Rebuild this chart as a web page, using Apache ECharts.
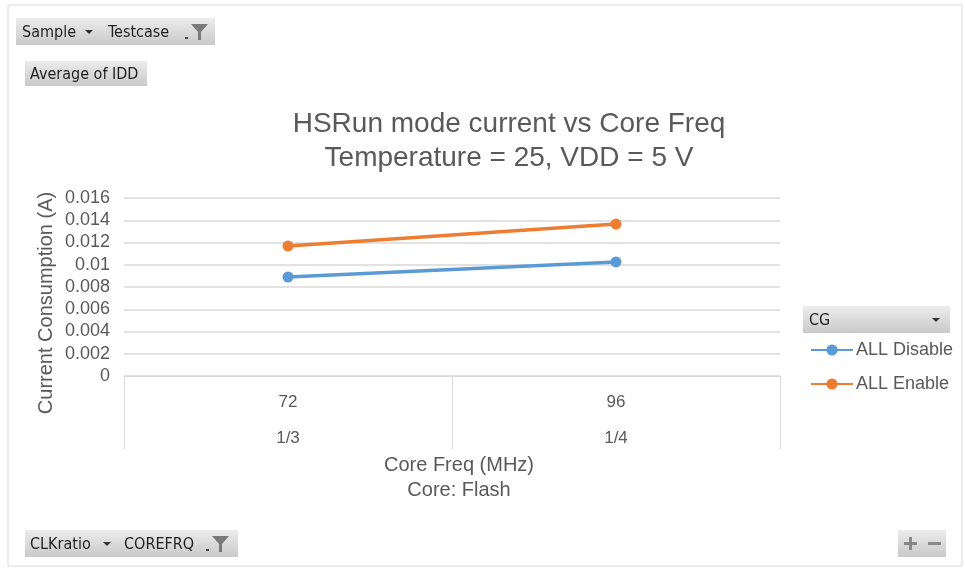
<!DOCTYPE html>
<html>
<head>
<meta charset="utf-8">
<script src="https://cdn.jsdelivr.net/npm/echarts@6/dist/echarts.min.js"></script>
<style>
html,body{margin:0;padding:0;background:#fff;}
#chart{width:965px;height:569px;}
</style>
</head>
<body>
<div id="chart"></div>
<script>
// ---- data ----
var coreFreq = ['72', '96'];
var clkRatio = ['1/3', '1/4'];
var seriesNames = ['ALL Disable', 'ALL Enable'];
var allDisable = [0.0089, 0.01025];
var allEnable = [0.01168, 0.01366];
var yTicks = { min: 0, max: 0.016, interval: 0.002 };

var categories = coreFreq.map(function (f, i) { return f + '\n' + clkRatio[i]; });

var chart = echarts.init(document.getElementById('chart'), null, { renderer: 'canvas' });
var txt = '#595959';
var grid = '#d9d9d9';
var btnFont = '"Liberation Sans Narrow","DejaVu Sans Condensed",sans-serif';
var chartFont = '"Liberation Sans",Arial,sans-serif';

function btnRect(x, y, w, h) {
  return {
    type: 'rect', shape: { x: x, y: y, width: w, height: h },
    style: {
      fill: new echarts.graphic.LinearGradient(0, 0, 0, 1, [
        { offset: 0, color: '#ececec' }, { offset: 1, color: '#c9c9c9' }
      ]), stroke: null
    }, z: 10
  };
}
function btnText(x, y, t) {
  return { type: 'text', x: x, y: y, style: { text: t, font: '16px ' + btnFont, fill: '#1f1f1f', verticalAlign: 'middle' }, z: 11 };
}
function arrow(x, y) {
  return { type: 'polygon', shape: { points: [[x - 4, y - 2], [x + 4, y - 2], [x, y + 2]] }, style: { fill: '#333' }, z: 11 };
}
function funnel(x, y) {
  return [
    { type: 'polygon', shape: { points: [[x, y - 8], [x + 17, y - 8], [x + 10, y], [x + 10, y + 8], [x + 7, y + 8], [x + 7, y]] }, style: { fill: '#7a7a7a' }, z: 11 },
    { type: 'rect', shape: { x: x - 6, y: y + 5, width: 3, height: 2 }, style: { fill: '#444' }, z: 11 }
  ];
}

var graphics = [
  { type: 'rect', shape: { x: 8, y: 5, width: 954, height: 561 }, style: { fill: null, stroke: '#d9d9d9', lineWidth: 1 }, z: 1 },
  btnRect(16, 18, 88, 27), btnRect(104, 18, 111, 27),
  btnText(22, 33, 'Sample'), arrow(89, 32), btnText(108, 33, 'Testcase')
].concat(funnel(191, 32)).concat([
  btnRect(25, 61, 122, 25), btnText(30, 75, 'Average of IDD'),
  btnRect(25, 530, 93, 27), btnRect(118, 530, 120, 27),
  btnText(30, 545, 'CLKratio'), arrow(107, 544), btnText(124, 545, 'COREFRQ')
]).concat(funnel(212, 544)).concat([
  btnRect(898, 530, 24, 27), btnRect(922, 530, 24, 27),
  { type: 'rect', shape: { x: 904, y: 542, width: 13, height: 3 }, style: { fill: '#888' }, z: 11 },
  { type: 'rect', shape: { x: 909, y: 537, width: 3, height: 13 }, style: { fill: '#888' }, z: 11 },
  { type: 'rect', shape: { x: 928, y: 542, width: 13, height: 3 }, style: { fill: '#888' }, z: 11 },
  btnRect(803, 306, 147, 27), btnText(809, 321, 'CG'), arrow(936, 320)
]);

chart.setOption({
  animation: false,
  backgroundColor: '#fff',
  textStyle: { fontFamily: chartFont },
  title: {
    text: 'HSRun mode current vs Core Freq\nTemperature = 25, VDD = 5 V',
    left: 504, top: 102, textAlign: 'center',
    textStyle: { fontSize: 28, fontWeight: 'normal', color: txt, lineHeight: 34, fontFamily: chartFont }
  },
  legend: {
    orient: 'vertical', left: 810, top: 341, padding: 0,
    itemWidth: 42, itemHeight: 14, itemGap: 16,
    textStyle: { fontSize: 18, color: txt, fontFamily: chartFont, padding: [0, 0, 0, -2] },
    data: seriesNames
  },
  grid: { left: 124, right: 185, top: 198, bottom: 193, containLabel: false },
  xAxis: {
    type: 'category', data: categories, boundaryGap: true,
    axisLine: { lineStyle: { color: grid, width: 1 } },
    axisTick: { show: true, interval: 0, length: 73, alignWithLabel: false, lineStyle: { color: grid } },
    axisLabel: { interval: 0, margin: 8, fontSize: 17, lineHeight: 36, color: txt },
    name: 'Core Freq (MHz)\nCore: Flash', nameLocation: 'middle', nameGap: 77, nameMoveOverlap: false,
    nameTextStyle: { fontSize: 20, lineHeight: 25, color: txt, padding: [0, 0, 0, 14] }
  },
  yAxis: {
    type: 'value', min: yTicks.min, max: yTicks.max, interval: yTicks.interval,
    axisLine: { show: false }, axisTick: { show: false },
    splitLine: { lineStyle: { color: grid, width: 1.5 } },
    axisLabel: { fontSize: 18, color: txt, margin: 14 },
    name: 'Current Consumption (A)', nameLocation: 'middle', nameGap: 68, nameMoveOverlap: false,
    nameTextStyle: { fontSize: 20, color: txt, padding: [0, 32, 0, 0] }
  },
  series: [
    {
      name: seriesNames[0], type: 'line', data: allDisable,
      symbol: 'circle', symbolSize: 11,
      lineStyle: { width: 3.5, color: '#5b9bd5' }, itemStyle: { color: '#5b9bd5' }
    },
    {
      name: seriesNames[1], type: 'line', data: allEnable,
      symbol: 'circle', symbolSize: 11,
      lineStyle: { width: 3.5, color: '#ed7d31' }, itemStyle: { color: '#ed7d31' }
    }
  ],
  graphic: graphics
});
</script>
</body>
</html>
